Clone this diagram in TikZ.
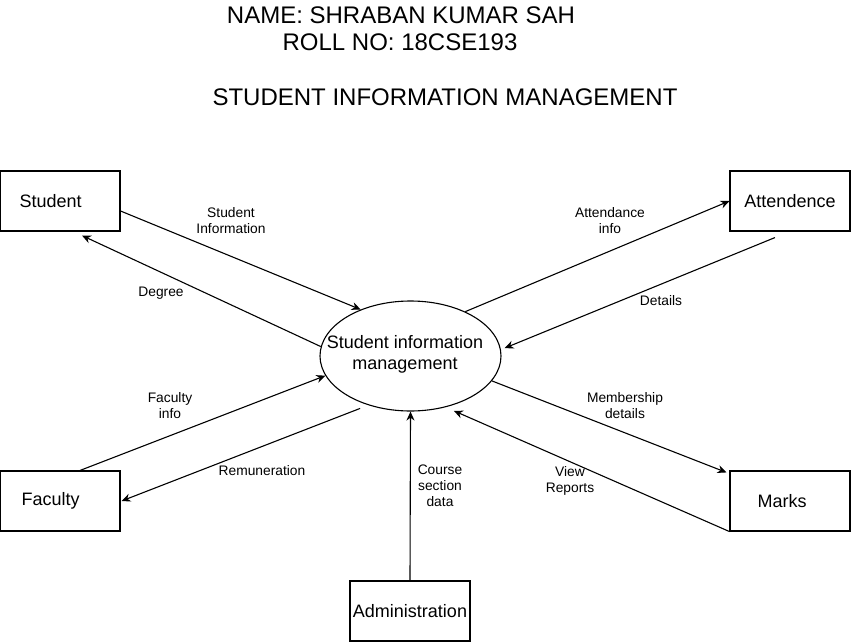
\documentclass[tikz,border=0pt]{standalone}
\usepackage{fontspec}
\setmainfont{Liberation Sans}
\usetikzlibrary{arrows.meta,shapes.geometric}
\begin{document}
\begin{tikzpicture}[x=1pt,y=-1pt,
  box/.style={draw,line width=1.1pt,minimum width=120pt,minimum height=60pt,inner sep=0pt,font=\fontsize{18}{21}\selectfont},
  boxtext/.style={inner sep=0pt,anchor=west,font=\fontsize{18}{21}\selectfont},
  proc/.style={draw,ellipse,line width=1.1pt,minimum width=181pt,minimum height=110pt,inner sep=0pt},
  proctext/.style={inner sep=0pt,align=center,font=\fontsize{18}{21}\selectfont},
  title/.style={inner sep=0pt,align=center,font=\fontsize{24}{28}\selectfont},
  lbl/.style={inner sep=0pt,align=center,font=\fontsize{13.8}{16}\selectfont},
  flow/.style={line width=1.1pt,-{Stealth[length=9pt,width=8pt]}}]
\useasboundingbox (0,0) rectangle (851,642);
% title
\node[title] (t1) at (401,15) {NAME: SHRABAN KUMAR SAH};
\node[title] (t1b) at (400,42) {ROLL NO: 18CSE193};
\node[title] (t2) at (445,97) {STUDENT INFORMATION MANAGEMENT};
% boxes
\node[box] (student) at (60,201) {};
\node[boxtext] (studentt) at ([xshift=20pt]student.west) {Student};
\node[box] (att) at (790,201) {Attendence};
\node[box] (fac) at (60,501) {};
\node[boxtext] (fact) at ([xshift=22pt]fac.west) {Faculty};
\node[box] (marks) at (790,501) {};
\node[boxtext] (markst) at ([xshift=28pt]marks.west) {Marks};
\node[box] (adm) at (410,611) {Administration};
% process
\node[proc] (sim) at (410.5,356) {};
\node[proctext] (simt) at (405,354) {Student information\\management};
% flows
\draw[flow] ([yshift=-10pt]student.east) -- (sim.137);
\draw[flow] (sim.174) -- ([xshift=22pt,yshift=-4pt]student.south);
\draw[flow] (sim.39) -- (att.west);
\draw[flow] ([xshift=-15pt,yshift=-6pt]att.south) -- ([xshift=4pt]sim.5);
\draw[flow] ([xshift=20pt]fac.north) -- (sim.193);
\draw[flow] ([xshift=-3pt,yshift=-5pt]sim.225) -- ([xshift=1pt]fac.east);
\draw[flow] (sim.-17) -- ([xshift=-3pt,yshift=-2pt]marks.north west);
\draw[flow] (marks.south west) -- ([xshift=3pt,yshift=-5pt]sim.-51);
\draw[flow] (adm.north) -- (sim.south);
% labels
\node[lbl] (l1) at (231,221) {Student\\Information};
\node[lbl] (l2) at (161,293) {Degree};
\node[lbl] (l3) at (610,221) {Attendance\\info};
\node[lbl] (l4) at (661,301) {Details};
\node[lbl] (l5) at (170,406) {Faculty\\info};
\node[lbl] (l6) at (262,471) {Remuneration};
\node[lbl] (l7) at (625,406) {Membership\\details};
\node[lbl] (l8) at (570,481) {View\\Reports};
\node[lbl] (l9) at (440,486) {Course\\section\\data};
\end{tikzpicture}
\end{document}
